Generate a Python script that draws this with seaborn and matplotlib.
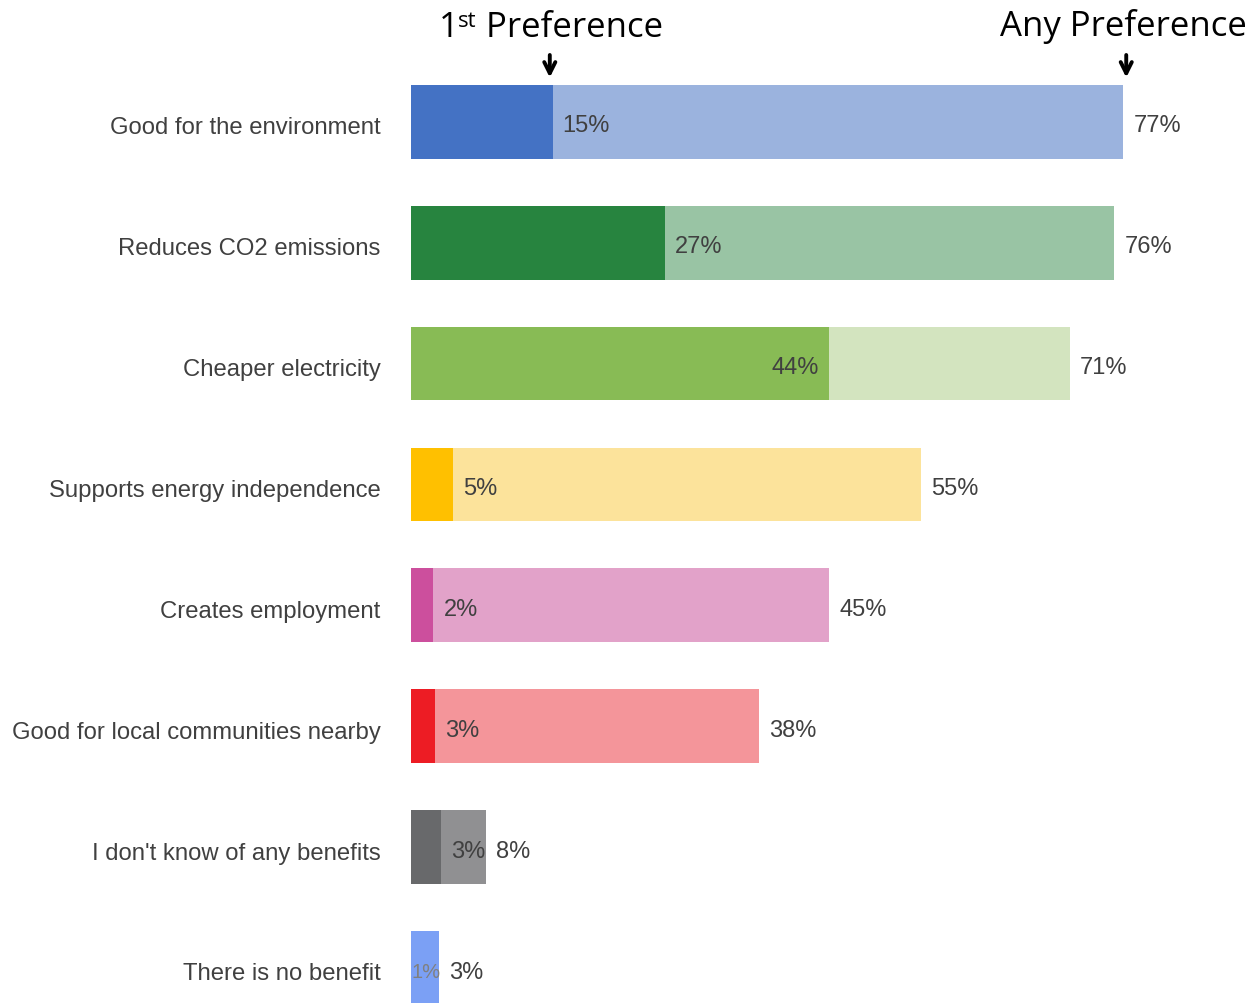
import matplotlib
matplotlib.use("Agg")
import matplotlib.pyplot as plt
import matplotlib.transforms as mtransforms
import seaborn as sns

# Survey: perceived benefits, first preference vs any preference (%)
categories = ['Good for the environment', 'Reduces CO2 emissions', 'Cheaper electricity',
              'Supports energy independence', 'Creates employment',
              'Good for local communities nearby', "I don't know of any benefits",
              'There is no benefit']
first_pref = [15.3, 27.4, 45.2, 4.5, 2.4, 2.6, 3.2, 1]
any_pref = [77, 76, 71.2, 55.1, 45.2, 37.6, 8.1, 3]
first_labels = ['15%', '27%', '44%', '5%', '2%', '3%', '3%', '1%']
any_labels = ['77%', '76%', '71%', '55%', '45%', '38%', '8%', '3%']

dark_colors = ['#4472C4', '#27843F', '#88BB55', '#FFC000', '#CC4F9D', '#ED1C24', '#68696B', '#7BA0F5']
light_colors = ['#9BB3DE', '#99C4A4', '#D3E4BF', '#FCE39B', '#E2A2C9', '#F4959A', '#909092', '#7BA0F5']

sns.set_style('white')
plt.rcParams['font.family'] = ['Liberation Sans', 'DejaVu Sans']

fig = plt.figure(figsize=(12.53, 10.04), dpi=100)
ax = fig.add_axes([411 / 1253, 0, 1 - 411 / 1253, 944 / 1004])

sns.barplot(x=any_pref, y=categories, hue=categories, palette=light_colors, orient='h',
            width=0.61, saturation=1, legend=False, ax=ax, linewidth=0)
sns.barplot(x=first_pref, y=categories, hue=categories, palette=dark_colors, orient='h',
            width=0.61, saturation=1, legend=False, ax=ax, linewidth=0)

ax.set_xlim(0, 91)
ax.set_ylim(7.29, -0.52)
ax.set_xlabel('')
ax.set_ylabel('')
ax.set_xticks([])
ax.tick_params(axis='y', length=0, pad=22, labelsize=17.2, labelcolor='#404040')
sns.despine(ax=ax, left=True, bottom=True)

txt = '#404040'
dy = 0.03
for i in range(len(categories)):
    ax.text(any_pref[i] + 1.1, i + dy, any_labels[i], va='center', ha='left', fontsize=17, color=txt)
    if i == 2:
        ax.text(first_pref[i] - 1.1, i + dy, first_labels[i], va='center', ha='right', fontsize=17, color=txt)
    elif i == 7:
        ax.text(0.05, i + dy, first_labels[i], va='center', ha='left', fontsize=14.5, color='#808080')
    else:
        ax.text(first_pref[i] + 1.1, i + dy, first_labels[i], va='center', ha='left', fontsize=17, color=txt)

# shift category labels slightly down like the reference
offset = mtransforms.ScaledTranslation(0, -3 / 100, fig.dpi_scale_trans)
for lab in ax.get_yticklabels():
    lab.set_transform(lab.get_transform() + offset)

# headers with arrows
trans = mtransforms.blended_transform_factory(ax.transData, fig.transFigure)
head_font = ['Open Sans', 'DejaVu Sans']
ax.text(any_pref[0], 0.974, 'Any Preference', transform=trans, ha='center',
        va='center', fontsize=25, family=head_font, color='black', clip_on=False)

# "1st Preference" built from pieces so the superscript stays small and low
renderer = fig.canvas.get_renderer()
parts = [('1', 25, 0), ('st', 16, 7), (' Preference', 25, 0)]
widths = []
for s, fs, _ in parts:
    t = fig.text(0, 0, s, fontsize=fs, family=head_font)
    widths.append(t.get_window_extent(renderer).width)
    t.remove()
cx = trans.transform((first_pref[0] - 0.2, 0))[0]
x0 = cx - sum(widths) / 2
base_y = 1004 - 37
for (s, fs, rise), w in zip(parts, widths):
    fig.text(x0 / 1253, (base_y + rise * 100 / 72) / 1004, s, fontsize=fs, family=head_font,
             va='baseline', ha='left', color='black')
    x0 += w

for xv in [first_pref[0] - 0.3, any_pref[0] + 0.3]:
    ax.annotate('', xy=(xv, 0.919), xytext=(xv, 0.947), xycoords=trans, textcoords=trans,
                arrowprops=dict(arrowstyle='->', lw=2.8, color='black', mutation_scale=20),
                annotation_clip=False)

fig.savefig('out.png', dpi=100)
